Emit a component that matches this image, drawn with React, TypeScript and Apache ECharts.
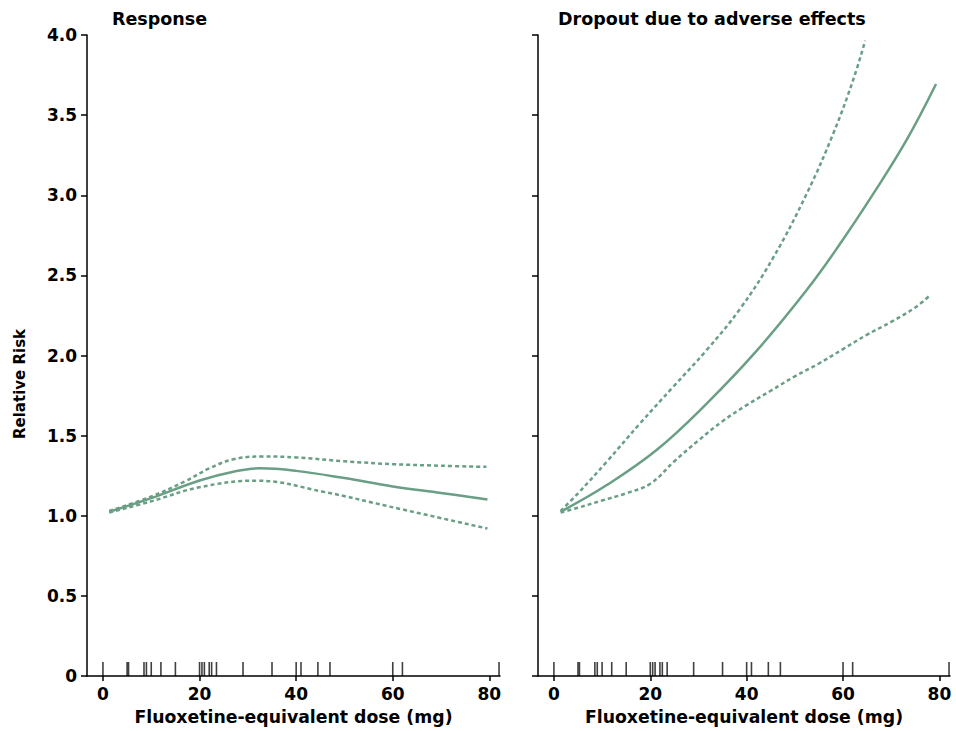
import React, { useEffect, useRef } from "react";
import * as echarts from "echarts";

// ---- Data ----
const xTicks = [0, 20, 40, 60, 80];
const panelTitles = ["Response", "Dropout due to adverse effects"];
const xAxisName = "Fluoxetine-equivalent dose (mg)";
const yAxisName = "Relative Risk";

// Response panel: [dose, RR]
const respMean = [
  [1.3, 1.025], [10, 1.11], [20, 1.22], [27, 1.275], [32.5, 1.296], [40, 1.28],
  [50, 1.235], [60, 1.183], [70, 1.142], [79.6, 1.102],
];
const respUpper = [
  [1.3, 1.03], [10, 1.12], [17, 1.215], [22, 1.295], [27, 1.352], [33, 1.37],
  [40, 1.364], [50, 1.34], [60, 1.322], [70, 1.312], [79.4, 1.305],
];
const respLower = [
  [1.3, 1.02], [10, 1.09], [20, 1.178], [31.8, 1.219], [45.6, 1.15],
  [59.4, 1.057], [79.6, 0.92],
];

// Dropout panel: [dose, RR]
const dropMean = [
  [1.4, 1.025], [10.9, 1.19], [21.3, 1.41], [31.7, 1.7], [42.1, 2.03],
  [52.5, 2.41], [59, 2.68], [66.3, 3.01], [73.2, 3.345], [79.3, 3.694],
];
const dropUpper = [
  [1.4, 1.03], [5, 1.14], [10.9, 1.335], [17.9, 1.577], [24.8, 1.806], [31.7, 2.034],
  [38.6, 2.29], [45.5, 2.61], [52.5, 3.012], [58, 3.387], [62.1, 3.719], [64.6, 3.965],
];
const dropLower = [
  [1.4, 1.02], [5, 1.05], [10, 1.095], [15, 1.14], [20, 1.2], [25, 1.34], [30, 1.47],
  [35, 1.59], [40, 1.69], [45, 1.78], [50, 1.87], [55, 1.95], [60, 2.04], [65, 2.13],
  [70, 2.21], [75, 2.3], [78.2, 2.38],
];

// Rug of study doses (same in both panels)
const rugDoses = [0, 5, 5.3, 8.5, 9, 10, 12, 15, 20, 20.5, 21, 22, 22.5, 23.5, 29, 35, 40, 41, 44.5, 47, 60, 62, 82];

const GREEN = "#6a9e85";
const FONT = "DejaVu Sans";

export default function App() {
  const ref = useRef<HTMLDivElement>(null);
  useEffect(() => {
    if (!ref.current) return;
    const chart = echarts.init(ref.current, null, { renderer: "svg" });
    const grids = [
      { left: 87, top: 35, width: 413, height: 641 },
      { left: 538, top: 35, width: 412, height: 641 },
    ];
    const txt = { fontFamily: FONT, fontWeight: "bold", fontSize: 17, color: "#000" };
    const xAxis = grids.map((_, i) => ({
      type: "value",
      gridIndex: i,
      min: -3.3,
      max: 82.2,
      name: xAxisName,
      nameLocation: "middle",
      nameGap: 32,
      nameTextStyle: { ...txt, fontSize: 17.3 },
      axisLine: { show: true, onZero: false, lineStyle: { color: "#000", width: 1.5 } },
      axisTick: { show: true, length: 5, customValues: xTicks, lineStyle: { color: "#000", width: 1.5 } },
      axisLabel: { customValues: xTicks, margin: 9, ...txt },
      splitLine: { show: false },
    }));
    const yAxis = grids.map((_, i) => ({
      type: "value",
      gridIndex: i,
      min: 0,
      max: 4,
      interval: 0.5,
      axisLine: { show: true, onZero: false, lineStyle: { color: "#000", width: 1.5 } },
      axisTick: { show: true, length: 6, lineStyle: { color: "#000", width: 1.5 } },
      axisLabel: {
        show: i === 0,
        margin: 10,
        ...txt,
        formatter: (v: number) => (v === 0 ? "0" : v.toFixed(1)),
      },
      splitLine: { show: false },
    }));
    const line = (data: number[][], idx: number, dashed: boolean) => ({
      type: "line",
      xAxisIndex: idx,
      yAxisIndex: idx,
      data,
      smooth: 0.4,
      showSymbol: false,
      symbol: "none",
      lineStyle: { color: GREEN, width: 2.5, type: dashed ? [4, 3] : "solid" },
      z: dashed ? 3 : 4,
    });
    const rug = (idx: number) => ({
      type: "custom",
      xAxisIndex: idx,
      yAxisIndex: idx,
      data: rugDoses.map((d) => [d, 0]),
      renderItem: (params: any, api: any) => {
        const p = api.coord([api.value(0), 0]);
        return {
          type: "line",
          shape: { x1: p[0], y1: p[1], x2: p[0], y2: p[1] - 14 },
          style: { stroke: "rgba(0,0,0,0.75)", lineWidth: 1.6 },
        };
      },
      z: 2,
    });
    chart.setOption({
      animation: false,
      backgroundColor: "#fff",
      title: [
        { text: panelTitles[0], left: 112, top: 10, padding: 0, textStyle: { ...txt, fontSize: 17.5 } },
        { text: panelTitles[1], left: 558, top: 10, padding: 0, textStyle: { ...txt, fontSize: 17.5 } },
      ],
      graphic: [
        {
          type: "text",
          x: 20,
          y: 384,
          rotation: Math.PI / 2,
          style: { text: yAxisName, fontFamily: FONT, fontWeight: "bold", fontSize: 15, fill: "#000", align: "center", verticalAlign: "middle" },
        },
      ],
      grid: grids,
      xAxis,
      yAxis,
      series: [
        line(respMean, 0, false), line(respUpper, 0, true), line(respLower, 0, true), rug(0),
        line(dropMean, 1, false), line(dropUpper, 1, true), line(dropLower, 1, true), rug(1),
      ],
    });
    return () => chart.dispose();
  }, []);
  return <div ref={ref} style={{ position: "fixed", left: 0, top: 0, width: 956, height: 731 }} />;
}
